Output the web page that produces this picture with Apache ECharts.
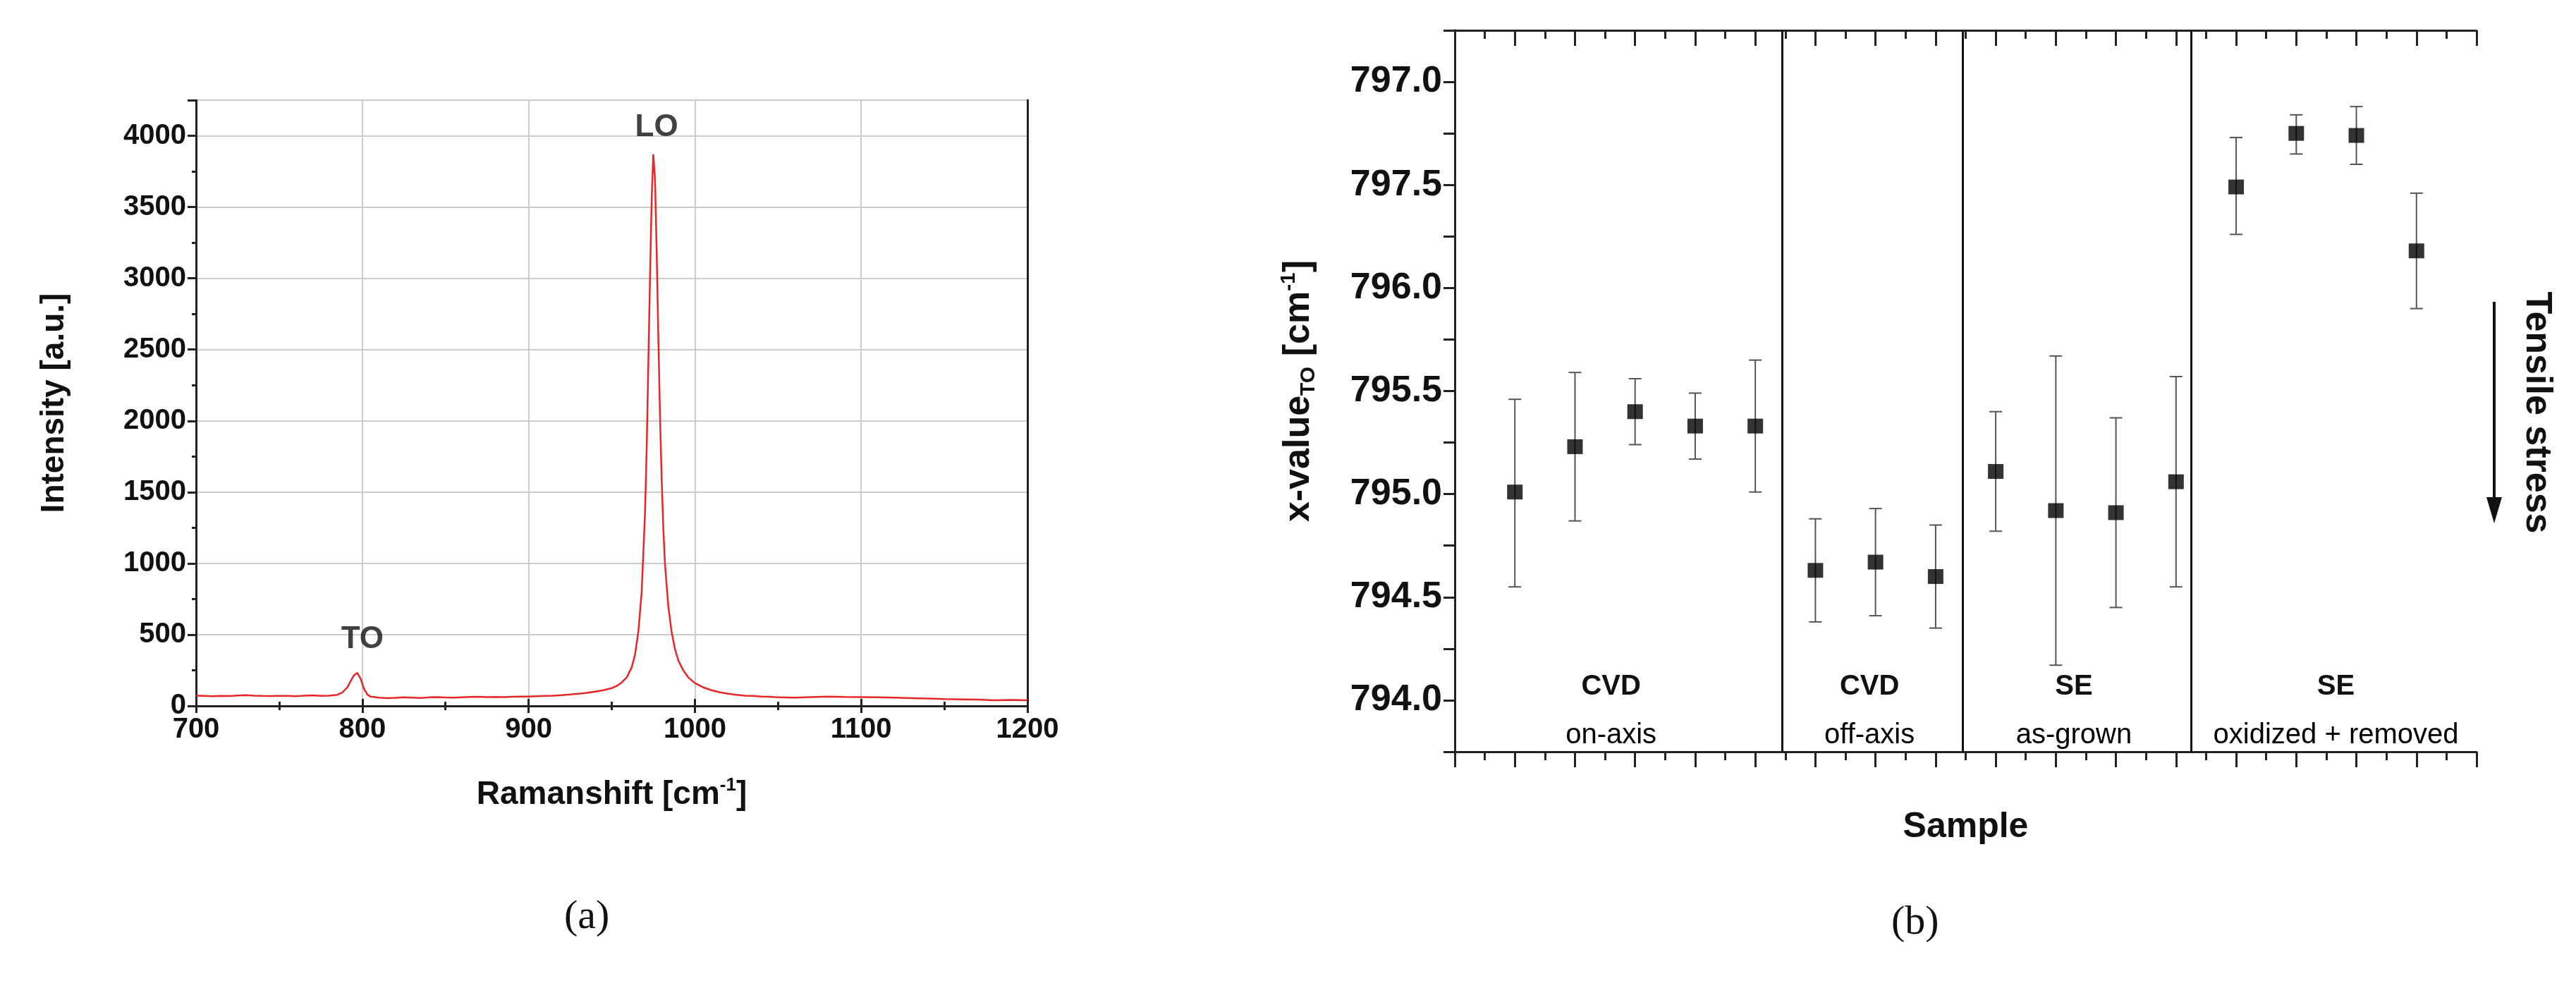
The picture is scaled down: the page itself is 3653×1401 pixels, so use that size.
<!DOCTYPE html>
<html><head><meta charset="utf-8">
<script src="https://cdn.jsdelivr.net/npm/echarts@6/dist/echarts.min.js"></script>
<style>html,body{margin:0;background:#fff}#c{width:3653px;height:1401px}</style>
</head><body><div id="c"></div>
<script>
// Panel (a) spectrum
const ramanX = [700,705,710,715,720,725,730,735,740,745,750,755,760,765,770,775,780,785,788,791,793,795,797,799,801,803,805,810,815,820,825,830,835,840,845,850,855,860,865,870,875,880,885,890,895,900,905,910,915,920,925,930,935,940,945,950,953,956,959,962,964,966,968,970,971,972,973,974,975,976,977,978,979,980,981,982,984,986,988,990,993,996,1000,1005,1010,1015,1020,1025,1030,1035,1040,1045,1050,1060,1070,1080,1090,1100,1110,1120,1130,1140,1150,1160,1170,1180,1190,1200];
const intensity = [72,70,68,71,69,73,75,72,70,69,71,70,68,72,74,70,72,78,95,130,175,215,232,190,120,80,65,58,55,57,60,58,56,60,62,59,58,61,63,64,62,63,62,64,66,65,68,70,72,76,80,85,92,100,110,125,140,165,200,270,360,520,800,1350,1800,2400,3000,3550,3870,3700,3200,2600,2050,1600,1250,1000,700,520,400,320,250,200,160,130,110,95,85,78,72,70,66,64,60,58,62,65,63,62,60,58,55,52,48,46,44,40,42,40];
const peakLabels = [{name:'TO', x:800, y:465}, {name:'LO', x:977, y:4060}];

// Panel (b)
const samplePos = [1,2,3,4,5, 6,7,8, 9,10,11,12, 13,14,15,16];
const xValue = [795.01,795.23,795.40,795.33,795.33, 794.63,794.67,794.60, 795.11,794.92,794.91,795.06, 796.49,796.75,796.74,796.18];
const errLow = [794.55,794.87,795.24,795.17,795.01, 794.38,794.41,794.35, 794.82,794.17,794.45,794.55, 796.26,796.65,796.60,795.90];
const errHigh = [795.46,795.59,795.56,795.49,795.65, 794.88,794.93,794.85, 795.40,795.67,795.37,795.57, 796.73,796.84,796.88,796.46];
const dividers = [5.45, 8.45, 12.25];
const groupTop = ['CVD','CVD','SE','SE'];
const groupBottom = ['on-axis','off-axis','as-grown','oxidized + removed'];
const groupCenter = [2.6, 6.9, 10.3, 14.66];
const yTickValues = [794.0,794.5,795.0,795.5,796.0,796.5,797.0];
const yTickLabels = ['794.0','794.5','795.0','795.5','796.0','797.5','797.0'];

const F = 'Liberation Sans Narrow, Liberation Sans, Arial, sans-serif';
const AX = '#222';
const TX = '#111';
const chart = echarts.init(document.getElementById('c'));
const spec = ramanX.map((x,i)=>[x,intensity[i]]);
const isMajor = v => yTickValues.some(t=>Math.abs(t-v)<1e-6);

function axisCommon(extra){return Object.assign({axisLine:{show:true,lineStyle:{color:AX,width:3}},splitLine:{show:false}},extra);}

chart.setOption({
  animation:false,
  grid:[
    {left:278, top:142, width:1179, height:859},
    {left:2063, top:43, width:1449, height:1023}
  ],
  xAxis:[
    axisCommon({gridIndex:0,type:'value',min:700,max:1200,interval:100,
      axisTick:{show:true,length:10,lineStyle:{color:AX,width:3}},
      minorTick:{show:true,splitNumber:2,length:6,lineStyle:{color:AX,width:3}},
      splitLine:{show:true,lineStyle:{color:'#cccccc',width:2}},
      axisLabel:{fontFamily:F,fontWeight:'bold',fontSize:40,color:TX,margin:14,formatter:v=>String(v)},
      name:'{a|Ramanshift [cm}{s|-1}{a|]}',nameLocation:'middle',nameGap:100,
      nameTextStyle:{rich:{a:{fontFamily:F,fontWeight:'bold',fontSize:46,color:TX},s:{fontFamily:F,fontWeight:'bold',fontSize:26,color:TX,verticalAlign:'top',padding:[0,0,26,0]}}}}),
    axisCommon({gridIndex:0,type:'value',min:700,max:1200,interval:100,position:'top',
      axisTick:{show:true,length:10,lineStyle:{color:AX,width:3}},
      minorTick:{show:true,splitNumber:2,length:6,lineStyle:{color:AX,width:3}},
      axisLabel:{show:false}}),
    axisCommon({gridIndex:1,type:'value',min:0,max:17,interval:1,
      axisTick:{show:true,length:22,lineStyle:{color:AX,width:3}},
      minorTick:{show:true,splitNumber:2,length:12,lineStyle:{color:AX,width:3}},
      axisLabel:{show:false},
      name:'Sample',nameLocation:'middle',nameGap:82,
      nameTextStyle:{fontFamily:F,fontWeight:'bold',fontSize:50,color:TX}}),
    axisCommon({gridIndex:1,type:'value',min:0,max:17,interval:1,position:'top',
      axisTick:{show:true,inside:true,length:22,lineStyle:{color:AX,width:3}},
      minorTick:{show:true,splitNumber:2,length:12,lineStyle:{color:AX,width:3}},
      axisLabel:{show:false}})
  ],
  yAxis:[
    axisCommon({gridIndex:0,type:'value',min:0,max:4250,interval:500,
      axisTick:{show:true,length:12,lineStyle:{color:AX,width:3}},
      minorTick:{show:true,splitNumber:2,length:6,lineStyle:{color:AX,width:3}},
      splitLine:{show:true,lineStyle:{color:'#cccccc',width:2}},
      axisLabel:{fontFamily:F,fontWeight:'bold',fontSize:40,color:TX,margin:14,
        formatter:v=> v>4000?'':String(v)},
      name:'Intensity [a.u.]',nameLocation:'middle',nameGap:178,
      nameTextStyle:{fontFamily:F,fontWeight:'bold',fontSize:46,color:TX}}),
    axisCommon({gridIndex:0,type:'value',min:0,max:4250,position:'right',
      axisTick:{show:false},axisLabel:{show:false}}),
    axisCommon({gridIndex:1,type:'value',min:793.75,max:797.25,interval:0.25,
      axisTick:{show:true,length:16,lineStyle:{color:AX,width:3}},
      axisLabel:{fontFamily:F,fontWeight:'bold',fontSize:52,color:TX,margin:18,
        formatter:v=>{const i=yTickValues.findIndex(t=>Math.abs(t-v)<1e-6);return i>=0?yTickLabels[i]:'';}},
      name:'{a|x-value}{b|TO}{a| [cm}{s|-1}{a|]}',nameLocation:'middle',nameGap:192,
      nameTextStyle:{rich:{a:{fontFamily:F,fontWeight:'bold',fontSize:52,color:TX},b:{fontFamily:F,fontWeight:'bold',fontSize:30,color:TX,verticalAlign:'bottom',padding:[24,0,0,0]},s:{fontFamily:F,fontWeight:'bold',fontSize:30,color:TX,verticalAlign:'top',padding:[0,0,28,0]}}}}),
    axisCommon({gridIndex:1,type:'value',min:793.75,max:797.25,interval:0.25,position:'right',
      axisTick:{show:true,inside:true,length:16,lineStyle:{color:AX,width:3}},
      axisLabel:{show:false}})
  ],
  series:[
    {type:'line',xAxisIndex:0,yAxisIndex:0,data:spec,showSymbol:false,smooth:false,
      lineStyle:{color:'#e8262a',width:2.5}},
    {type:'scatter',xAxisIndex:0,yAxisIndex:0,symbolSize:0,silent:true,
      data:peakLabels.map(p=>({value:[p.x,p.y],name:p.name})),
      label:{show:true,formatter:'{b}',position:'inside',fontFamily:F,fontWeight:'bold',fontSize:44,color:TX}},
    {type:'custom',xAxisIndex:2,yAxisIndex:2,
      data:samplePos.map((x,i)=>[x,errLow[i],errHigh[i]]),
      renderItem:(params,api)=>{
        const lo=api.coord([api.value(0),api.value(1)]);
        const hi=api.coord([api.value(0),api.value(2)]);
        const w=9, st={stroke:'#555',lineWidth:2};
        return {type:'group',children:[
          {type:'line',shape:{x1:lo[0],y1:lo[1],x2:hi[0],y2:hi[1]},style:st},
          {type:'line',shape:{x1:lo[0]-w,y1:lo[1],x2:lo[0]+w,y2:lo[1]},style:st},
          {type:'line',shape:{x1:hi[0]-w,y1:hi[1],x2:hi[0]+w,y2:hi[1]},style:st}
        ]};
      }},
    {type:'scatter',xAxisIndex:2,yAxisIndex:2,symbol:'rect',symbolSize:[22,21],
      itemStyle:{color:'#000'},data:samplePos.map((x,i)=>[x,xValue[i]]),z:5,
      markLine:{silent:true,symbol:'none',label:{show:false},
        lineStyle:{color:'#111',width:3,type:'solid'},
        data:dividers.map(d=>({xAxis:d}))}},
    {type:'custom',xAxisIndex:2,yAxisIndex:2,
      data:groupCenter.map((c,i)=>[c,i]),
      renderItem:(params,api)=>{
        const i=api.value(1);
        const p1=api.coord([api.value(0),794.065]);
        const p2=api.coord([api.value(0),793.83]);
        return {type:'group',children:[
          {type:'text',style:{x:p1[0],y:p1[1],text:groupTop[i],textAlign:'center',textVerticalAlign:'middle',font:'bold 40px '+F,fill:TX}},
          {type:'text',style:{x:p2[0],y:p2[1],text:groupBottom[i],textAlign:'center',textVerticalAlign:'middle',font:'40px '+F,fill:'#000'}}
        ]};
      }}
  ],
  graphic:[
    {type:'text',left:800,top:1272,style:{text:'(a)',font:'58px Liberation Serif, serif',fill:'#111'}},
    {type:'text',left:2682,top:1280,style:{text:'(b)',font:'58px Liberation Serif, serif',fill:'#111'}},
    {type:'text',x:3597,y:585,rotation:-Math.PI/2,style:{text:'Tensile stress',font:'bold 52px '+F,fill:TX,textAlign:'center',textVerticalAlign:'middle'}},
    {type:'line',shape:{x1:3537,y1:428,x2:3537,y2:715},style:{stroke:'#111',lineWidth:4}},
    {type:'polygon',shape:{points:[[3526,705],[3548,705],[3537,742]]},style:{fill:'#111'}}
  ]
});
</script></body></html>
